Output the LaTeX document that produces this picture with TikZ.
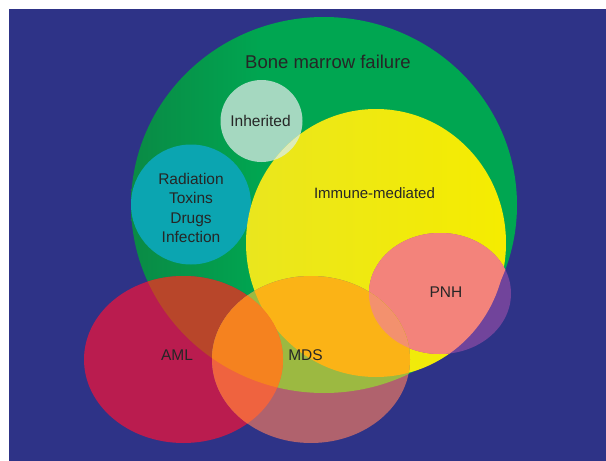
\documentclass[tikz,border=0pt]{standalone}
\usepackage{fontspec}
\setmainfont{Liberation Sans}

% palette
\definecolor{bgblue}{HTML}{2E3387}
\definecolor{gdark}{HTML}{0A8A45}
\definecolor{glight}{HTML}{00A651}
\definecolor{yleft}{HTML}{EAE61E}
\definecolor{yright}{HTML}{F5EC00}
\definecolor{inhcol}{HTML}{A5D8C0}
\definecolor{inhyel}{HTML}{DCEBB9}
\definecolor{tealcol}{HTML}{0BA5B1}
\definecolor{pnhcol}{HTML}{F3837B}
\definecolor{pnhout}{HTML}{71449B}
\definecolor{amlcol}{HTML}{BA1C4F}
\definecolor{amlgreen}{HTML}{B8462A}
\definecolor{mdscol}{HTML}{B0626D}
\definecolor{mdsgreen}{HTML}{9CB941}
\definecolor{mdsyellow}{HTML}{FBB316}
\definecolor{mdspnh}{HTML}{F3916E}
\definecolor{mdsaml}{HTML}{EF633F}
\definecolor{mdsamlin}{HTML}{F5821F}
\definecolor{txt}{HTML}{262626}

\pgfdeclarehorizontalshading{marrowgreen}{100bp}{color(0bp)=(gdark); color(25bp)=(gdark); color(42bp)=(glight); color(100bp)=(glight)}

\tikzset{
  % outlines of the sets (pixel-like units, y pointing down)
  pGreen/.style={insert path={(324,205) ellipse [x radius=193, y radius=188]}},
  pInh/.style={insert path={(261.5,121) circle [radius=41]}},
  pTeal/.style={insert path={(191,204.5) circle [radius=60]}},
  pYel/.style={insert path={(376,243) ellipse [x radius=130, y radius=134]}},
  pPNH/.style={insert path={(440,293.5) ellipse [x radius=71, y radius=60.5]}},
  pAML/.style={insert path={(183.5,359.5) ellipse [x radius=99.5, y radius=83.5]}},
  pMDS/.style={insert path={(311,359.5) ellipse [x radius=99, y radius=83.5]}},
  lbl/.style={text=txt, inner sep=0pt, anchor=base, font=\fontsize{15.5}{18}\selectfont},
  ttl/.style={lbl, font=\fontsize{18.5}{22}\selectfont}
}

\begin{document}
\begin{tikzpicture}[x=1pt, y=-1pt]
  \useasboundingbox (0,0) rectangle (606,461);
  \fill[white] (0,0) rectangle (606,461);
  \fill[bgblue] (9,9) rectangle (606,461);

  % bone marrow failure
  \shade[shading=marrowgreen, pGreen];

  % inherited and toxic causes
  \fill[inhcol, pInh];
  \fill[tealcol, pTeal];

  % immune-mediated
  \shade[left color=yleft, right color=yright, pYel];
  \begin{scope}
    \clip[pYel];
    \fill[inhyel, pInh];
  \end{scope}

  % PNH
  \fill[pnhout, pPNH];
  \begin{scope}\clip[pGreen]; \fill[pnhcol, pPNH];\end{scope}
  \begin{scope}\clip[pYel]; \fill[pnhcol, pPNH];\end{scope}

  % AML
  \fill[amlcol, pAML];
  \begin{scope}\clip[pGreen]; \fill[amlgreen, pAML];\end{scope}
  \begin{scope}\clip[pYel]; \fill[amlgreen, pAML];\end{scope}

  % MDS and its overlaps
  \fill[mdscol, pMDS];
  \begin{scope}\clip[pGreen]; \fill[mdsgreen, pMDS];\end{scope}
  \begin{scope}\clip[pYel]; \fill[mdsyellow, pMDS];\end{scope}
  \begin{scope}\clip[pPNH]; \fill[mdspnh, pMDS];\end{scope}
  \begin{scope}
    \clip[pAML];
    \fill[mdsaml, pMDS];
    \begin{scope}\clip[pGreen]; \fill[mdsamlin, pMDS];\end{scope}
    \begin{scope}\clip[pYel]; \fill[mdsamlin, pMDS];\end{scope}
  \end{scope}

  % labels
  \node[ttl] (tBMF) at (328,68) {Bone marrow failure};
  \node[lbl] (tInh) at (260.5,126.5) {Inherited};
  \node[lbl] (tRad) at (191,184) {Radiation};
  \node[lbl] (tTox) at (191,203.5) {Toxins};
  \node[lbl] (tDrg) at (191,223) {Drugs};
  \node[lbl] (tInf) at (191,242) {Infection};
  \node[lbl, font=\fontsize{15}{18}\selectfont] (tImm) at (374.5,198) {Immune-mediated};
  \node[lbl] (tPNH) at (446,297) {PNH};
  \node[lbl] (tAML) at (177,360) {AML};
  \node[lbl] (tMDS) at (305.5,360) {MDS};
\end{tikzpicture}
\end{document}
